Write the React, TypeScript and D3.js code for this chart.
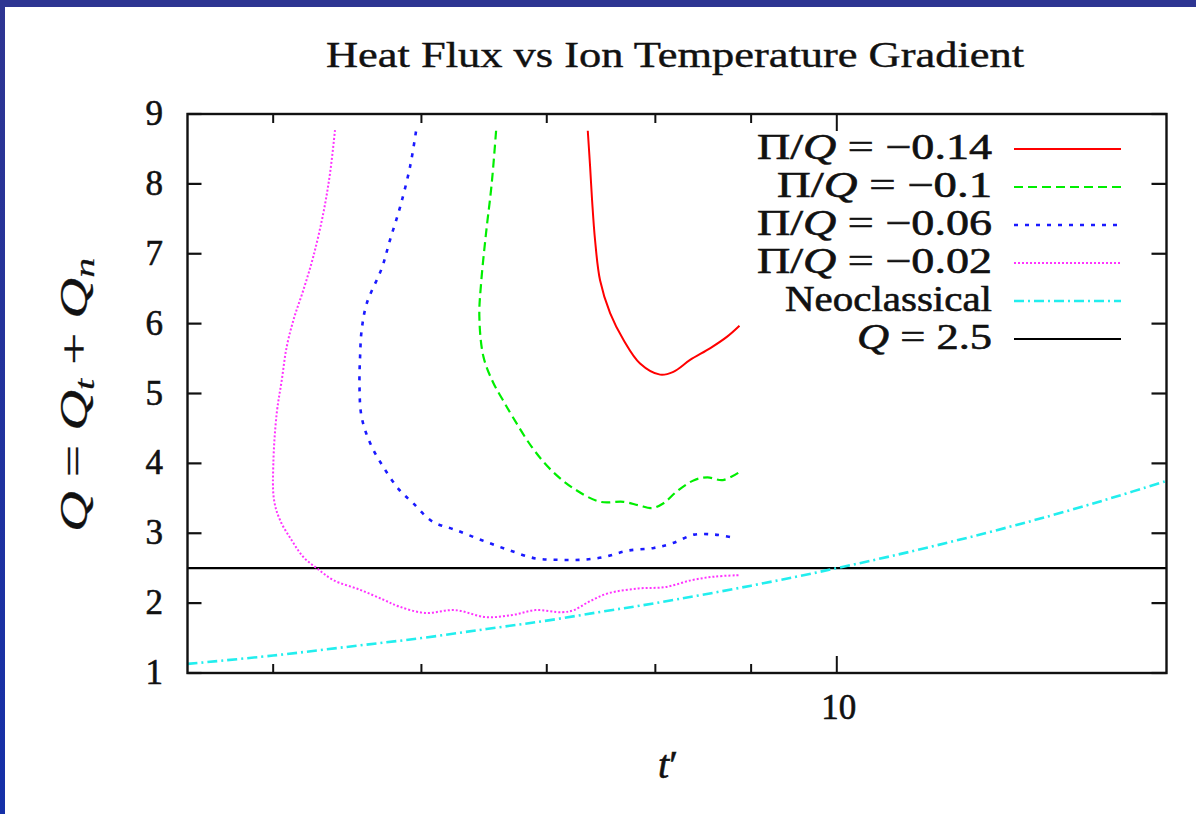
import React from "react";
import * as d3 from "d3";

// ---------- data (t', Q) ----------
const titleText = "Heat Flux vs Ion Temperature Gradient";
const xMinorTicks = [5, 6, 7, 8, 9];
const xMajorTicks = [10];
const yTicks = [1, 2, 3, 4, 5, 6, 7, 8, 9];

const seriesM014: [number, number][] = [
  [7.362, 8.76], [7.383, 8.25], [7.401, 7.77], [7.428, 7.2], [7.474, 6.62],
  [7.567, 6.15], [7.692, 5.77], [7.851, 5.43], [8.047, 5.27], [8.179, 5.31],
  [8.349, 5.48], [8.56, 5.65], [8.735, 5.81], [8.872, 5.97],
];

const seriesM010: [number, number][] = [
  [6.577, 8.76], [6.542, 8.01], [6.496, 7.29], [6.457, 6.58], [6.443, 6.1],
  [6.475, 5.53], [6.555, 5.15], [6.631, 4.91], [6.711, 4.67], [6.87, 4.24],
  [7.034, 3.91], [7.236, 3.64], [7.477, 3.45], [7.692, 3.45], [7.837, 3.4],
  [7.967, 3.36], [8.081, 3.43], [8.215, 3.6], [8.39, 3.76], [8.529, 3.8],
  [8.691, 3.76], [8.865, 3.87],
];

const seriesM006: [number, number][] = [
  [5.96, 8.75], [5.917, 8.25], [5.845, 7.67], [5.773, 7.2], [5.714, 6.79],
  [5.61, 6.29], [5.575, 5.91], [5.564, 5.53], [5.56, 5.1], [5.574, 4.67],
  [5.633, 4.29], [5.725, 3.95], [5.839, 3.62], [5.939, 3.43], [6.08, 3.17],
  [6.254, 3.05], [6.463, 2.9], [6.68, 2.76], [6.903, 2.64], [7.101, 2.62],
  [7.303, 2.62], [7.513, 2.66], [7.728, 2.75], [7.986, 2.79], [8.175, 2.86],
  [8.39, 2.98], [8.61, 2.98], [8.794, 2.94],
];

const seriesM002: [number, number][] = [
  [5.395, 8.77], [5.362, 8.15], [5.318, 7.58], [5.253, 6.96], [5.189, 6.48],
  [5.13, 6.08], [5.084, 5.67], [5.053, 5.19], [5.022, 4.72], [5.001, 4.0],
  [5.005, 3.48], [5.042, 3.19], [5.115, 2.9], [5.189, 2.66], [5.275, 2.5],
  [5.384, 2.33], [5.564, 2.19], [5.725, 2.05], [5.839, 1.95], [6.024, 1.86],
  [6.254, 1.9], [6.494, 1.8], [6.711, 1.83], [6.903, 1.9], [7.134, 1.87],
  [7.236, 1.9], [7.373, 2.02], [7.548, 2.14], [7.837, 2.21], [8.099, 2.23],
  [8.37, 2.33], [8.61, 2.38], [8.865, 2.4],
];

const seriesNeo: [number, number][] = [
  [4.5, 1.13], [5, 1.25], [5.5, 1.38], [6, 1.5], [6.5, 1.63], [7, 1.75],
  [7.5, 1.88], [8, 2.0], [9, 2.25], [10, 2.5], [11, 2.75], [12, 3.0],
  [13, 3.25], [14, 3.5], [15, 3.75],
];

const qLevel = 2.5;

const legendRows = [
  { key: "m014", label: "-0.14", color: "#ff0000", dash: "", width: 2 },
  { key: "m010", label: "-0.1", color: "#00ee00", dash: "9 5", width: 2.2 },
  { key: "m006", label: "-0.06", color: "#1a1aff", dash: "4 7", width: 2.6 },
  { key: "m002", label: "-0.02", color: "#ff33ff", dash: "2 2", width: 2 },
  { key: "neo", label: "Neoclassical", color: "#22eeee", dash: "10 4 2 4", width: 2.6 },
  { key: "q", label: "Q = 2.5", color: "#000000", dash: "", width: 2 },
];

const W = 1196;
const H = 814;
const L = 187.5, R = 1166.5, T = 114, B = 673;
const FONT = "'Liberation Serif', 'Times New Roman', serif";

export default function App() {
  const x = d3.scaleLog().domain([4.5, 15]).range([L, R]);
  const y = d3.scaleLinear().domain([1, 9]).range([B, T]);
  const line = d3
    .line<[number, number]>()
    .x((d) => x(d[0]))
    .y((d) => y(d[1]))
    .curve(d3.curveCatmullRom.alpha(0.5));

  const seriesMap: Record<string, [number, number][]> = {
    m014: seriesM014,
    m010: seriesM010,
    m006: seriesM006,
    m002: seriesM002,
    neo: seriesNeo,
  };

  const legendY0 = 149;
  const legendDy = 38;
  const legendLabelWidths = [235, 215, 235, 235, 207, 135];
  const textStroke = { stroke: "#111", strokeWidth: 0.6 };

  return (
    <svg
      width={W}
      height={H}
      viewBox={`0 0 ${W} ${H}`}
      style={{ position: "absolute", left: 0, top: 0, display: "block", background: "#ffffff" }}
    >
      <defs>
        <linearGradient id="leftStrip" x1="0" y1="0" x2="0" y2="1">
          <stop offset="0" stopColor="#2e3592" />
          <stop offset="1" stopColor="#1530a8" />
        </linearGradient>
        <clipPath id="plotClip">
          <rect x={L} y={T} width={R - L} height={B - T} />
        </clipPath>
      </defs>
      <rect x={0} y={0} width={W} height={H} fill="#ffffff" />
      <rect x={0} y={0} width={W} height={7} fill="#2e3592" />
      <rect x={0} y={0} width={5} height={H} fill="url(#leftStrip)" />

      {/* title */}
      <text
        x={675}
        y={67}
        textAnchor="middle"
        fontFamily={FONT}
        fontSize={35}
        fill="#111"
        stroke="#111"
        strokeWidth={0.4}
        textLength={698}
        lengthAdjust="spacingAndGlyphs"
      >
        {titleText}
      </text>

      {/* curves */}
      <g clipPath="url(#plotClip)" fill="none" strokeLinejoin="round">
        <line x1={L} x2={R} y1={y(qLevel)} y2={y(qLevel)} stroke="#000" strokeWidth={2.2} />
        {legendRows
          .filter((r) => r.key !== "q")
          .map((r) => (
            <path
              key={r.key}
              d={line(seriesMap[r.key]) || ""}
              stroke={r.color}
              strokeWidth={r.width}
              strokeDasharray={r.dash || undefined}
            />
          ))}
      </g>

      {/* border */}
      <rect x={L} y={T} width={R - L} height={B - T} fill="none" stroke="#111" strokeWidth={2.4} />

      {/* y ticks */}
      {yTicks.map((v) => (
        <g key={"y" + v}>
          <line x1={L} x2={L + 14} y1={y(v)} y2={y(v)} stroke="#111" strokeWidth={2.2} />
          <line x1={R - 15} x2={R} y1={y(v)} y2={y(v)} stroke="#111" strokeWidth={2.2} />
          <text x={163} y={y(v) + 11} textAnchor="end" fontFamily={FONT} fontSize={35} fill="#111" {...textStroke}>
            {v}
          </text>
        </g>
      ))}

      {/* x ticks */}
      {xMinorTicks.map((v) => (
        <g key={"xm" + v}>
          <line x1={x(v)} x2={x(v)} y1={B} y2={B - 9} stroke="#111" strokeWidth={2} />
          <line x1={x(v)} x2={x(v)} y1={T} y2={T + 9} stroke="#111" strokeWidth={2} />
        </g>
      ))}
      {xMajorTicks.map((v) => (
        <g key={"xM" + v}>
          <line x1={x(v)} x2={x(v)} y1={B} y2={B - 17} stroke="#111" strokeWidth={2} />
          <line x1={x(v)} x2={x(v)} y1={T} y2={T + 17} stroke="#111" strokeWidth={2} />
          <text x={x(v) + 2} y={719} textAnchor="middle" fontFamily={FONT} fontSize={35} fill="#111" {...textStroke}>
            {v}
          </text>
        </g>
      ))}

      {/* axis labels */}
      <text x={668} y={778} textAnchor="middle" fontFamily={FONT} fontSize={40} fill="#111" {...textStroke}>
        <tspan fontStyle="italic">t</tspan>
        <tspan>′</tspan>
      </text>
      <text
        transform="translate(87,395) rotate(-90)"
        textAnchor="middle"
        fontFamily={FONT}
        fontSize={40}
        fill="#111"
        stroke="#111"
        strokeWidth={0.3}
        textLength={274}
        lengthAdjust="spacingAndGlyphs"
      >
        <tspan fontStyle="italic">Q</tspan>
        <tspan> = </tspan>
        <tspan fontStyle="italic">Q</tspan>
        <tspan fontStyle="italic" fontSize={28} dy={7}>t</tspan>
        <tspan dy={-7}> + </tspan>
        <tspan fontStyle="italic">Q</tspan>
        <tspan fontStyle="italic" fontSize={28} dy={7}>n</tspan>
      </text>

      {/* legend */}
      {legendRows.map((r, i) => {
        const ly = legendY0 + i * legendDy;
        let label: React.ReactNode;
        if (r.key === "neo") label = r.label;
        else if (r.key === "q")
          label = (
            <>
              <tspan fontStyle="italic">Q</tspan>
              <tspan> = 2.5</tspan>
            </>
          );
        else
          label = (
            <>
              <tspan>Π/</tspan>
              <tspan fontStyle="italic">Q</tspan>
              <tspan> = −{r.label.slice(1)}</tspan>
            </>
          );
        return (
          <g key={"lg" + r.key}>
            <text
              x={992}
              y={ly + 10}
              textAnchor="end"
              fontFamily={FONT}
              fontSize={36}
              fill="#111"
              {...textStroke}
              textLength={legendLabelWidths[i]}
              lengthAdjust="spacingAndGlyphs"
            >
              {label}
            </text>
            <line
              x1={1014}
              x2={1121}
              y1={ly}
              y2={ly}
              stroke={r.color}
              strokeWidth={r.width}
              strokeDasharray={r.dash || undefined}
            />
          </g>
        );
      })}
    </svg>
  );
}
